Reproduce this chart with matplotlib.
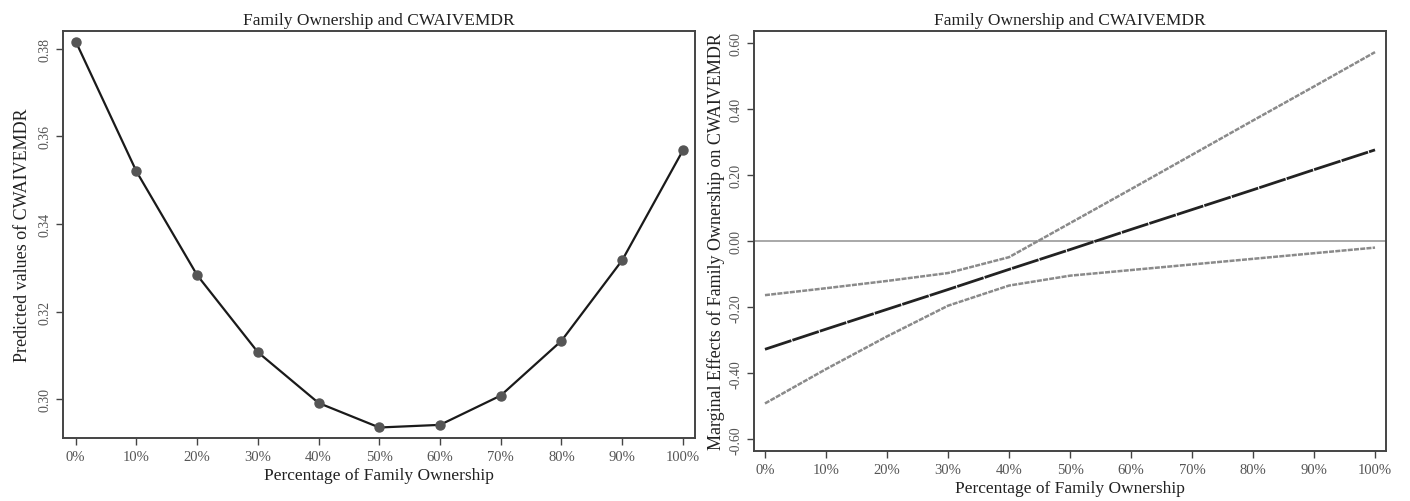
import matplotlib
matplotlib.use("Agg")
import matplotlib.pyplot as plt

# family ownership share (%)
pct = [0, 10, 20, 30, 40, 50, 60, 70, 80, 90, 100]
pct_labels = ["0%", "10%", "20%", "30%", "40%", "50%", "60%", "70%", "80%", "90%", "100%"]

# left: predicted values
predicted = [0.3817, 0.352, 0.3283, 0.3107, 0.2991, 0.2935, 0.2941, 0.3008, 0.3133, 0.3317, 0.3568]

# right: marginal effect and confidence bounds
effect = [-0.327, -0.266, -0.206, -0.146, -0.085, -0.025, 0.036, 0.096, 0.156, 0.217, 0.277]
upper = [-0.163, -0.142, -0.120, -0.096, -0.048, 0.055, 0.158, 0.262, 0.366, 0.469, 0.573]
lower = [-0.491, -0.387, -0.288, -0.195, -0.134, -0.104, -0.087, -0.070, -0.053, -0.036, -0.019]

plt.rcParams["font.family"] = ["Liberation Serif", "DejaVu Serif"]

fig = plt.figure(figsize=(14.1, 5.02), dpi=100)
ax1 = fig.add_axes([63 / 1410, 63 / 502, 632 / 1410, 407 / 502])
ax2 = fig.add_axes([754 / 1410, 50 / 502, 632 / 1410, 420 / 502])

title = "Family Ownership and CWAIVEMDR"
tick_col = "#555555"
spine_col = "#444444"


def style(ax):
    for s in ax.spines.values():
        s.set_color(spine_col)
        s.set_linewidth(1.4)
    ax.tick_params(direction="out", length=5, width=1, colors=spine_col,
                   labelcolor=tick_col, labelsize=10)
    ax.tick_params(axis="x", labelsize=10.5)
    ax.set_xticks(pct)
    ax.set_xticklabels(pct_labels)
    for lab in ax.get_yticklabels():
        lab.set_rotation(90)
        lab.set_va("center")
    ax.set_title(title, fontsize=12.5, color="#222222", pad=5)
    ax.set_xlabel("Percentage of Family Ownership", fontsize=12.5, color="#222222", labelpad=3)


ax1.plot(pct, predicted, color="#1a1a1a", lw=1.6, marker="o", ms=6.5,
         mfc="#555555", mec="#555555", zorder=3)
ax1.set_xlim(-2.1, 102)
ax1.set_ylim(0.2911, 0.3841)
ax1.set_yticks([0.30, 0.32, 0.34, 0.36, 0.38])
ax1.set_yticklabels(["0.30", "0.32", "0.34", "0.36", "0.38"])
ax1.set_ylabel("Predicted values of CWAIVEMDR", fontsize=13, color="#222222", labelpad=5)
style(ax1)

ax2.axhline(0, color="#999999", lw=1.2, zorder=1)
ax2.plot(pct, upper, color="#8a8a8a", lw=1.8, ls=(0, (2, 0.5)), zorder=2)
ax2.plot(pct, lower, color="#8a8a8a", lw=1.8, ls=(0, (2, 0.5)), zorder=2)
ax2.plot(pct, effect, color="#222222", lw=2, ls=(0, (10, 0.4)), zorder=3)
ax2.set_xlim(-1.8, 101.8)
ax2.set_ylim(-0.635, 0.637)
ax2.set_yticks([-0.6, -0.4, -0.2, 0.0, 0.2, 0.4, 0.6])
ax2.set_yticklabels(["-0.60", "-0.40", "-0.20", "0.00", "0.20", "0.40", "0.60"])
ax2.set_ylabel("Marginal Effects of Family Ownership on CWAIVEMDR", fontsize=13,
               color="#222222", labelpad=3)
style(ax2)

fig.savefig("out.png", dpi=100)
